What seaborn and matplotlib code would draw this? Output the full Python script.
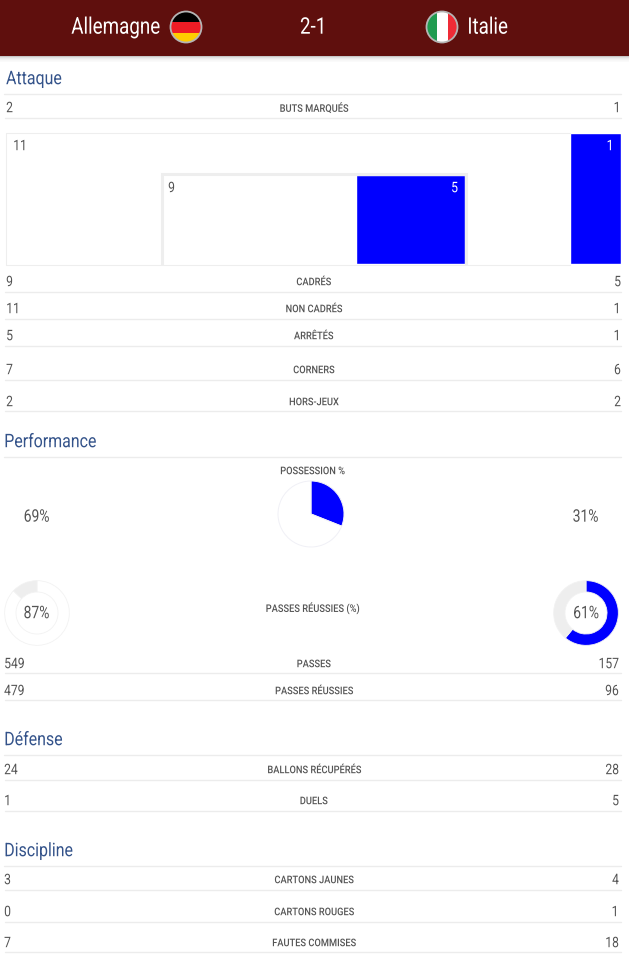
"""Match statistics sheet, Allemagne vs Italie."""

import matplotlib.patheffects as pe
import matplotlib.pyplot as plt
from matplotlib.patches import Circle, Rectangle
from matplotlib.transforms import Affine2D
import pandas as pd
import seaborn as sns

W, H = 629, 961

home_team = "Allemagne"
away_team = "Italie"
score = "2-1"

attack_labels = ["BUTS MARQUÉS", "CADRÉS", "NON CADRÉS", "ARRÊTÉS", "CORNERS", "HORS-JEUX"]
attack_home = [2, 9, 11, 5, 7, 2]
attack_away = [1, 5, 1, 1, 6, 2]

shots_off_home, shots_off_away = 11, 1
shots_on_home, shots_on_away = 9, 5

possession_home, possession_away = 69, 31
pass_rate_home, pass_rate_away = 87, 61

pass_labels = ["PASSES", "PASSES RÉUSSIES"]
pass_home = [549, 479]
pass_away = [157, 96]

defense_labels = ["BALLONS RÉCUPÉRÉS", "DUELS"]
defense_home = [24, 1]
defense_away = [28, 5]

discipline_labels = ["CARTONS JAUNES", "CARTONS ROUGES", "FAUTES COMMISES"]
discipline_home = [3, 0, 7]
discipline_away = [4, 1, 18]

BLUE = "#0000ff"
GREY = "#eeeeee"
RULE = "#ececec"
TEXT = "#555555"
HEAD = "#34538a"
MAROON = "#5f0f0d"

sns.set_theme(style="white")
plt.rcParams["font.family"] = ["Roboto", "DejaVu Sans"]

fig = plt.figure(figsize=(W / 100, H / 100), dpi=100, facecolor="white")


class Narrow(pe.AbstractPathEffect):
    """Squeeze glyphs sideways, no condensed font is installed."""

    def __init__(self, factor, ha):
        super().__init__()
        self.factor = factor
        self.ha = ha

    def draw_path(self, renderer, gc, tpath, affine, rgbFace=None):
        box = tpath.get_extents()
        anchor = {"left": box.x0, "center": (box.x0 + box.x1) / 2, "right": box.x1}[self.ha]
        squeeze = Affine2D().translate(-anchor, 0).scale(self.factor, 1).translate(anchor, 0)
        renderer.draw_path(gc, tpath, squeeze + affine, rgbFace)


def px_axes(x, y, w, h, zorder=1):
    ax = fig.add_axes([x / W, 1 - (y + h) / H, w / W, h / H], zorder=zorder)
    ax.set_axis_off()
    return ax


def put_text(ax, x, y, s, color=TEXT, size=10.5, ha="left", factor=0.83, weight="normal"):
    # text sits a bit high with va=center compared to the web page
    t = ax.text(x, y + 1.2, s, color=color, fontsize=size, ha=ha, va="center", fontweight=weight)
    t.set_path_effects([Narrow(factor, ha)])
    return t


# page layer, in pixels
page = px_axes(0, 0, W, H, zorder=0)
page.set_xlim(0, W)
page.set_ylim(H, 0)

page.add_patch(Rectangle((0, 0), W, 56, color=MAROON, lw=0))
for i, alpha in enumerate([0.22, 0.12, 0.08, 0.05, 0.03, 0.02]):
    page.add_patch(Rectangle((0, 56 + i), W, 1, color="black", alpha=alpha, lw=0))


def flag(cx, cy, r, rects):
    ring = Circle((cx, cy), r, fc="none", ec="#b5b5b5", lw=1.3, zorder=4)
    page.add_patch(ring)
    clip = Circle((cx, cy), r, transform=page.transData)
    for x, y, w, h, c in rects:
        p = Rectangle((x, y), w, h, color=c, lw=0, zorder=3)
        page.add_patch(p)
        p.set_clip_path(clip)


flag(186, 27, 15.5, [(170, 11, 32, 11, "#000000"), (170, 22, 32, 10.5, "#ee1c25"), (170, 32.5, 32, 11, "#ffcc00")])
flag(442, 27, 15.5, [(426, 11, 11, 32, "#1f9b50"), (437, 11, 10.5, 32, "#ffffff"), (447.5, 11, 11, 32, "#ef2b36")])

put_text(page, 160, 26, home_team, color="white", size=16.5, ha="right", factor=0.82)
put_text(page, 313.5, 26, score, color="white", size=16.5, ha="center", factor=0.82)
put_text(page, 467, 26, away_team, color="white", size=16.5, factor=0.82)


def heading(label, x, y, rule_y):
    put_text(page, x, y, label, color=HEAD, size=13.5, factor=0.85)
    page.plot([4, 621], [rule_y, rule_y], color=RULE, lw=1)


def stat_rows(labels, home, away, ys, rules, left, right):
    for label, a, b, y, r in zip(labels, home, away, ys, rules):
        put_text(page, left, y, str(a))
        put_text(page, right, y, str(b), ha="right")
        put_text(page, 313.5, y, label, size=7.6, ha="center", factor=0.88, weight="medium")
        page.plot([5, 621], [r, r], color=RULE, lw=1)


heading("Attaque", 6, 78, 94)
stat_rows(attack_labels, attack_home, attack_away,
          [107, 281, 308, 335, 369, 401], [118, 292, 319, 346, 380, 411], 6, 621)
heading("Performance", 4, 441, 457)
stat_rows(pass_labels, pass_home, pass_away, [663, 690], [673, 700], 4, 619)
heading("Défense", 4, 739, 755)
stat_rows(defense_labels, defense_home, defense_away, [769, 800], [780, 811], 4, 619)
heading("Discipline", 4, 850, 866)
stat_rows(discipline_labels, discipline_home, discipline_away,
          [879, 911, 942], [890, 922, 952], 4, 619)

put_text(page, 312, 470, "POSSESSION %", size=7.6, ha="center", factor=0.88, weight="medium")
put_text(page, 312, 607, "PASSES RÉUSSIES (%)", size=7.6, ha="center", factor=0.88, weight="medium")
put_text(page, 36.5, 516, f"{possession_home}%", size=12.5, ha="center", factor=0.8)
put_text(page, 585.5, 516, f"{possession_away}%", size=12.5, ha="center", factor=0.8)


def split_bar(ax, home, away):
    # blue bar at full length, home bar in white on top of it
    df = pd.DataFrame({"team": ["match"], "total": [home + away], "home": [home]})
    sns.barplot(data=df, x="total", y="team", orient="h", color=BLUE, width=1,
                saturation=1, ax=ax, zorder=2)
    sns.barplot(data=df, x="home", y="team", orient="h", color="white", width=1,
                saturation=1, ax=ax, zorder=3)
    ax.set_xlim(0, home + away)
    ax.set_ylim(0.5, -0.5)
    ax.set_xlabel("")
    ax.set_ylabel("")
    ax.set_axis_off()


split_bar(px_axes(6, 133, 615, 131, zorder=1), shots_off_home, shots_off_away)
split_bar(px_axes(160, 175, 305, 89, zorder=2), shots_on_home, shots_on_away)

top = px_axes(0, 0, W, H, zorder=3)
top.set_xlim(0, W)
top.set_ylim(H, 0)
top.patch.set_alpha(0)
# outer frame stops at the blue bar, inner frame is open at the bottom
top.plot([570, 5.5, 5.5, 570], [132.5, 132.5, 264.5, 264.5], color=GREY, lw=0.8)
top.plot([161.5, 161.5, 466, 466], [264, 173.5, 173.5, 264], color=GREY, lw=2.2,
         solid_joinstyle="miter")
put_text(top, 13, 145, str(shots_off_home))
put_text(top, 614, 145, str(shots_off_away), color="white", ha="right")
put_text(top, 168, 187, str(shots_on_home))
put_text(top, 458, 187, str(shots_on_away), color="white", ha="right")

# possession pie
pie_ax = px_axes(278, 481, 66, 66, zorder=2)
pie_ax.pie([possession_away, possession_home], colors=[BLUE, "white"], startangle=90,
           counterclock=False, radius=1, wedgeprops={"edgecolor": "#f0f0f6", "linewidth": 0.7})
pie_ax.set_xlim(-1, 1)
pie_ax.set_ylim(-1, 1)


def donut(ax, value, color, rest):
    ax.pie([value, 100 - value], colors=[color, rest], startangle=90, counterclock=False,
           radius=1, wedgeprops={"width": 0.35, "edgecolor": "#f2f2f2", "linewidth": 0.6})
    ax.set_xlim(-1.02, 1.02)
    ax.set_ylim(-1.02, 1.02)


donut(px_axes(4, 580, 66, 66, zorder=2), pass_rate_home, "white", GREY)
donut(px_axes(553, 580, 66, 66, zorder=2), pass_rate_away, BLUE, GREY)
put_text(top, 36.5, 612.5, f"{pass_rate_home}%", size=12.5, ha="center", factor=0.8)
put_text(top, 586, 612.5, f"{pass_rate_away}%", size=12.5, ha="center", factor=0.8)

fig.savefig("out.png", dpi=100)
